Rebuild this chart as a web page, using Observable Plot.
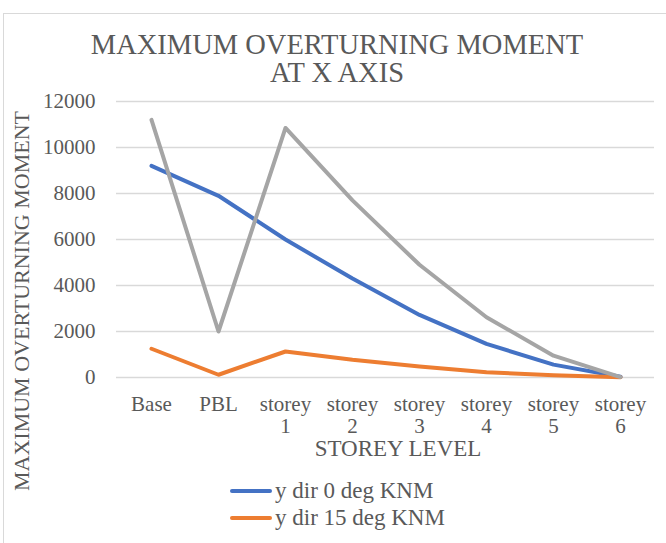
<!DOCTYPE html>
<html>
<head>
<meta charset="utf-8">
<script src="https://cdn.jsdelivr.net/npm/d3@7"></script>
<script src="https://cdn.jsdelivr.net/npm/@observablehq/plot@0.6"></script>
<style>
  html, body { margin: 0; padding: 0; background: #fff; }
  #wrap { position: relative; width: 666px; height: 543px; overflow: hidden; background: #fff;
          font-family: "Liberation Serif", "Times New Roman", "Liberation Sans", Arial, sans-serif; color: #595959; }
  #frame { position: absolute; left: 3px; top: 13px; width: 700px; height: 600px;
           border: 1.5px solid #d9d9d9; box-sizing: border-box; }
  #title { position: absolute; left: 0; top: 31px; width: 674px; text-align: center;
           font-size: 28.5px; line-height: 28px; }
  #ylab { position: absolute; left: 21.5px; top: 301px; white-space: nowrap; font-size: 22px;
          transform: translate(-50%, -50%) rotate(-90deg); line-height: 1; }
  #xlab { position: absolute; left: 398px; top: 437px; white-space: nowrap; font-size: 23px;
          transform: translateX(-50%); line-height: 1; }
  #chart { position: absolute; left: 0; top: 0; }
  #chart svg { overflow: visible; }
  #chart svg text { font-family: "Liberation Serif", "Times New Roman", "Liberation Sans", Arial, sans-serif; }
  .leg { position: absolute; left: 230px; font-size: 23px; white-space: nowrap; line-height: 1.15; }
  .leg .sw { display: inline-block; width: 42px; height: 4px; border-radius: 2px; vertical-align: middle;
             margin-right: 3px; position: relative; top: -2px; }
</style>
</head>
<body>
<div id="wrap">
  <div id="frame"></div>
  <div id="title">MAXIMUM OVERTURNING MOMENT<br>AT X AXIS</div>
  <div id="chart"></div>
  <div id="ylab">MAXIMUM OVERTURNING MOMENT</div>
  <div id="xlab">STOREY LEVEL</div>
  <div id="legend"></div>
</div>
<script>
const categories = ["Base", "PBL", "storey 1", "storey 2", "storey 3", "storey 4", "storey 5", "storey 6"];
const tickLine1 = ["Base", "PBL", "storey", "storey", "storey", "storey", "storey", "storey"];
const tickLine2 = ["", "", "1", "2", "3", "4", "5", "6"];
const yTicks = [0, 2000, 4000, 6000, 8000, 10000, 12000];

const seriesNames = ["y dir 0 deg KNM", "y dir 15 deg KNM", "Series 3"];
const seriesColors = ["#4472C4", "#ED7D31", "#A5A5A5"];
const legendNames = ["y dir 0 deg KNM", "y dir 15 deg KNM"];

const yDir0 = [9200, 7900, 6000, 4300, 2720, 1460, 560, 30];
const yDir15 = [1250, 120, 1130, 770, 480, 230, 100, 10];
const series3 = [11200, 2000, 10850, 7700, 4900, 2620, 950, 20];

const seriesValues = [yDir0, yDir15, series3];
const data = [];
seriesNames.forEach((name, s) => {
  categories.forEach((cat, i) => data.push({cat, name, value: seriesValues[s][i]}));
});

const FONT = '"Liberation Serif", "Times New Roman", "Liberation Sans", Arial, sans-serif';
const line2Cats = categories.filter((c, i) => tickLine2[i] !== "");

const chart = Plot.plot({
  width: 666,
  height: 470,
  marginTop: 101,
  marginBottom: 93,
  marginLeft: 116,
  marginRight: 12,
  style: {fontFamily: FONT, color: "#595959", background: "transparent", overflow: "visible"},
  x: {type: "point", domain: categories, padding: 0.5, label: null},
  y: {domain: [0, 12000], label: null},
  color: {domain: seriesNames, range: seriesColors},
  marks: [
    Plot.gridY(yTicks, {stroke: "#d9d9d9", strokeOpacity: 1, strokeWidth: 1.5}),
    Plot.axisY(yTicks, {tickSize: 0, tickPadding: 21, fontSize: 21, label: null, fill: "#595959",
                        tickFormat: d => String(d)}),
    Plot.axisX(categories, {tickSize: 0, tickPadding: 19, fontSize: 21, label: null, fill: "#595959",
                tickFormat: d => tickLine1[categories.indexOf(d)]}),
    Plot.axisX(line2Cats, {tickSize: 0, tickPadding: 41, fontSize: 21, label: null, fill: "#595959",
                tickFormat: d => tickLine2[categories.indexOf(d)]}),
    Plot.line(data, {x: "cat", y: "value", z: "name", stroke: "name", strokeWidth: 4,
                     strokeLinejoin: "round", strokeLinecap: "round"})
  ]
});
document.getElementById("chart").appendChild(chart);

const legend = document.getElementById("legend");
legendNames.forEach((name, i) => {
  const div = document.createElement("div");
  div.className = "leg";
  div.style.top = (478 + i * 27) + "px";
  const sw = document.createElement("span");
  sw.className = "sw";
  sw.style.background = seriesColors[seriesNames.indexOf(name)];
  div.appendChild(sw);
  div.appendChild(document.createTextNode(name));
  legend.appendChild(div);
});
</script>
</body>
</html>
